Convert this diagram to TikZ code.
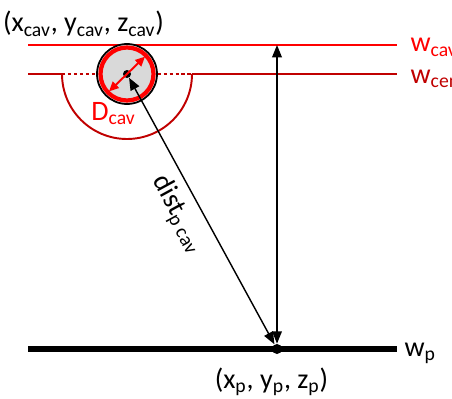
\documentclass[tikz,border=0pt]{standalone}
\usepackage{fontspec}
\setmainfont{Carlito}
\usetikzlibrary{arrows.meta, calc}
\definecolor{cavred}{HTML}{FF0000}
\definecolor{cenred}{HTML}{C00000}
\definecolor{cavgray}{HTML}{D9D9D9}
\tikzset{
  lbl/.style={font=\fontsize{16}{18}\selectfont, inner sep=1pt},
  ptdot/.style={circle, fill=black, inner sep=0pt, minimum size=#1},
  blkarrow/.style={{Triangle[length=7pt,width=5.5pt]}-{Triangle[length=7pt,width=5.5pt]}, line width=0.8pt},
  redarrow/.style={{Triangle[length=5.5pt,width=5pt]}-{Triangle[length=5.5pt,width=5pt]}, cavred, line width=1.1pt}
}

\begin{document}
\begin{tikzpicture}
\useasboundingbox (0,0) rectangle (9.04,7.96);
\coordinate (cavL) at (0.56,7.06);
\coordinate (cavR) at (7.94,7.06);
\coordinate (cenL) at (0.56,6.48);
\coordinate (cenR) at (7.94,6.48);
\coordinate (semiL) at (1.24,6.48);
\coordinate (semiR) at (3.84,6.48);
\coordinate (pL) at (0.56,0.98);
\coordinate (pR) at (7.94,0.98);
\coordinate (c) at (2.54,6.48);
\draw[cavred, line width=1.5pt] (cavL) -- (cavR);
\draw[cenred, line width=1.5pt] (cenL) -- (semiL);
\draw[cenred, line width=1.5pt, dash pattern=on 1.8pt off 1.6pt] (semiL) -- (semiR);
\draw[cenred, line width=1.5pt] (semiR) -- (cenR);
\draw[cenred, line width=1.1pt] (semiL) arc[start angle=180, end angle=360, radius=1.3];
\draw[line width=3.4pt] (pL) -- (pR);
\draw[fill=cavgray, line width=1pt] (c) circle (0.6);
\draw[cavred, line width=2.4pt] (c) circle (0.53);
\node[ptdot=0.16cm] (cav) at (c) {};
\node[ptdot=0.2cm] (p) at (5.54,0.98) {};
\coordinate (top) at (p |- cavL);
\coordinate (d1) at ($(c)+(224:0.5)$);
\coordinate (d2) at ($(c)+(44:0.5)$);
\draw[redarrow] (d1) -- (d2);
\draw[blkarrow] (cav) -- node[lbl, sloped, below=4pt, pos=0.47] (dist) {dist\textsubscript{p cav}} (p);
\draw[blkarrow] (p) -- (top);
\node[lbl, anchor=base] (cavpos) at (1.67,7.32) {(x\textsubscript{cav}, y\textsubscript{cav}, z\textsubscript{cav})};
\node[lbl, anchor=base] (ppos) at (5.43,0.2) {(x\textsubscript{p}, y\textsubscript{p}, z\textsubscript{p})};
\node[lbl, cavred, anchor=base] (dcav) at (2.27,5.56) {D\textsubscript{cav}};
\node[lbl, cavred, anchor=base west] (wcav) at (8.17,6.92) {w\textsubscript{cav}};
\node[lbl, cenred, anchor=base west] (wcen) at (8.17,6.30) {w\textsubscript{center}};
\node[lbl, anchor=base west] (wp) at (8.05,0.84) {w\textsubscript{p}};
\end{tikzpicture}
\end{document}
